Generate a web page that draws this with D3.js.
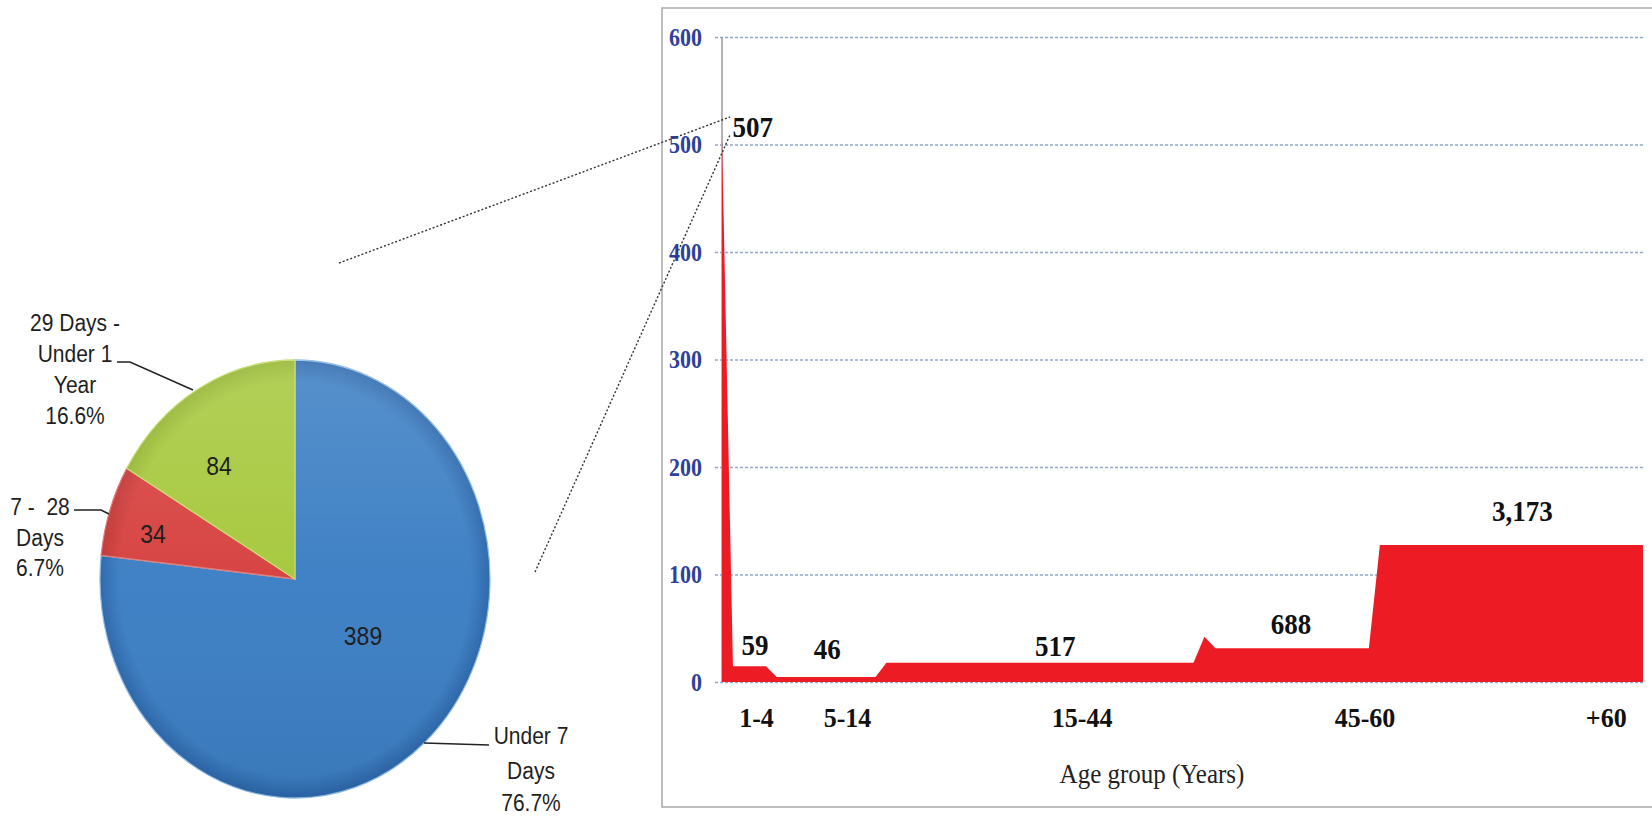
<!DOCTYPE html>
<html><head><meta charset="utf-8">
<script src="https://cdn.jsdelivr.net/npm/d3@7"></script>
<style>html,body{margin:0;padding:0;background:#fff;} svg{display:block;}</style>
</head><body>
<svg id="chart" width="1652" height="817"></svg>
<script>
// ---------------- data ----------------
const pieNames = ["Under 7 Days", "7 - 28 Days", "29 Days - Under 1 Year"];
const pieValues = [389, 34, 84];
const piePercents = ["76.7%", "6.7%", "16.6%"];

const ageCategories = ["1-4", "5-14", "15-44", "45-60", "+60"];
const groupTotals = ["507", "59", "46", "517", "688", "3,173"];
// area profile: age (years) and value per year of age
const areaAges   = [0,   1,     4,     5,   14,  15, 43, 44, 45,   59,   60,    84];
const areaValues = [507, 14.75, 14.75, 4.6, 4.6, 18, 18, 42, 31.5, 31.5, 127.5, 127.5];
const yTicks = [0, 100, 200, 300, 400, 500, 600];

// ---------------- layout ----------------
const svg = d3.select("#chart");
const serif = "'Liberation Serif','Times New Roman',serif";
const sans = "'Liberation Sans',Arial,sans-serif";

// right panel frame
svg.append("path").attr("d", "M1652,8H662V807H1652")
  .attr("fill", "none").attr("stroke", "#a8a8a8").attr("stroke-width", 1.5);

const x = d3.scaleLinear().domain([0, 84]).range([722, 1643]);
const y = d3.scaleLinear().domain([0, 600]).range([682, 37]);

// gridlines + y tick labels
const yAxis = d3.axisLeft(y).tickValues(yTicks)
  .tickSizeInner(-(1643 - 715)).tickSizeOuter(0).tickPadding(13);
const gy = svg.append("g").attr("transform", "translate(715,0)").call(yAxis);
gy.select(".domain").remove();
gy.selectAll(".tick line").attr("stroke", "#8ea8d0").attr("stroke-width", 1.5)
  .attr("stroke-dasharray", "3,2");
gy.selectAll(".tick text").attr("fill", "#2e3f9c").attr("font-family", serif)
  .attr("font-weight", "bold").attr("font-size", 22).attr("dy", "0.34em")
  .attr("transform", "scale(1,1.12)");

// y axis line
svg.append("line").attr("x1", 722).attr("x2", 722).attr("y1", y(0)).attr("y2", y(600))
  .attr("stroke", "#9a9a9a").attr("stroke-width", 1.5);

// area
const area = d3.area()
  .x((d, i) => x(areaAges[i]))
  .y0(y(0))
  .y1(d => y(d));
svg.append("path").datum(areaValues).attr("d", area).attr("fill", "#ed1c24");

// category labels (x axis)
const catAt = [3.1, 11.4, 32.8, 58.6, 80.6];
const xAxis = d3.axisBottom(x).tickValues(catAt)
  .tickFormat((d, i) => ageCategories[i]).tickSize(0);
const gx = svg.append("g").attr("transform", `translate(0,${y(0)})`).call(xAxis);
gx.select(".domain").remove();
gx.selectAll(".tick text").attr("y", 0).attr("dy", null)
  .attr("transform", "translate(0,45) scale(1,1.06)")
  .attr("fill", "#111").attr("font-family", serif).attr("font-weight", "bold").attr("font-size", 26);

// value labels
const labelAt = [[2.8, 507], [3.0, 25], [9.6, 21.4], [30.4, 24], [51.9, 44.6], [73.0, 150]];
svg.append("g").selectAll("text").data(groupTotals).join("text")
  .attr("transform", (d, i) => `translate(${x(labelAt[i][0])},${y(labelAt[i][1])}) scale(1,1.1)`)
  .attr("text-anchor", "middle").attr("font-family", serif).attr("font-weight", "bold")
  .attr("font-size", 27).attr("fill", "#111").text(d => d);

// axis title
svg.append("text").attr("transform", "translate(1152,783) scale(1,1.1)")
  .attr("text-anchor", "middle").attr("font-family", serif).attr("font-size", 25)
  .attr("fill", "#222").text("Age group (Years)");

// connector dotted lines
[[339, 263, 730, 117], [535, 572, 730, 135]].forEach(c => {
  svg.append("line").attr("x1", c[0]).attr("y1", c[1]).attr("x2", c[2]).attr("y2", c[3])
    .attr("stroke", "#333").attr("stroke-width", 1.4).attr("stroke-dasharray", "2,2");
});

// ---------------- pie ----------------
const pieCx = 295, pieCy = 579, R = 200, rx = 195, ry = 219;
const colors = [
  {main: "#3c7fc4", light: "#8fbce8", edge: "#2c67ab"},
  {main: "#d6413f", light: "#e27a76", edge: "#bf3634"},
  {main: "#a6c83d", light: "#c4dc6c", edge: "#93b32f"}
];
const defs = svg.append("defs");
colors.forEach((c, i) => {
  const g = defs.append("radialGradient").attr("id", "pg" + i)
    .attr("gradientUnits", "userSpaceOnUse").attr("cx", 0).attr("cy", 0).attr("r", R);
  g.append("stop").attr("offset", "0%").attr("stop-color", c.main);
  g.append("stop").attr("offset", "90%").attr("stop-color", c.main);
  g.append("stop").attr("offset", "100%").attr("stop-color", c.edge);
});
const shade = defs.append("linearGradient").attr("id", "shade")
  .attr("x1", 0).attr("y1", 0).attr("x2", 0).attr("y2", 1);
shade.append("stop").attr("offset", "0%").attr("stop-color", "#fff").attr("stop-opacity", 0.14);
shade.append("stop").attr("offset", "50%").attr("stop-color", "#fff").attr("stop-opacity", 0.02);
shade.append("stop").attr("offset", "100%").attr("stop-color", "#000").attr("stop-opacity", 0.06);

const pieData = d3.pie().sort(null).value(d => d)(pieValues);
const arc = d3.arc().innerRadius(0).outerRadius(R);
const pg = svg.append("g").attr("transform", `translate(${pieCx},${pieCy}) scale(${rx / R},${ry / R})`);
pg.selectAll("path.slice").data(pieData).join("path").attr("class", "slice")
  .attr("d", arc).attr("fill", (d, i) => `url(#pg${i})`)
  .attr("stroke", (d, i) => colors[i].light).attr("stroke-width", 1.2);
pg.append("ellipse").attr("cx", 0).attr("cy", 0).attr("rx", R).attr("ry", R)
  .attr("fill", "url(#shade)");

// slice value labels
const sliceLabelPos = [[363, 645], [153, 543], [219, 475]];
svg.append("g").selectAll("text").data(pieValues).join("text")
  .attr("transform", (d, i) => `translate(${sliceLabelPos[i][0]},${sliceLabelPos[i][1]}) scale(1,1.15)`)
  .attr("text-anchor", "middle").attr("font-family", sans).attr("font-size", 23)
  .attr("fill", "#1f1f1f").text(d => d);

// outer category labels
const outer = [
  {lines: ["Under 7", "Days", piePercents[0]], x: 531, y: [744, 779, 811]},
  {lines: ["7 -  28", "Days", piePercents[1]], x: 40, y: [515, 546, 576]},
  {lines: ["29 Days -", "Under 1", "Year", piePercents[2]], x: 75, y: [331, 362, 393, 424]}
];
outer.forEach(o => {
  o.lines.forEach((t, j) => {
    svg.append("text").attr("transform", `translate(${o.x},${o.y[j]}) scale(1,1.1)`)
      .attr("text-anchor", "middle").attr("font-family", sans).attr("font-size", 21)
      .attr("fill", "#1f1f1f").attr("xml:space", "preserve").text(t);
  });
});

// leader lines
const leaders = [
  [[424, 743], [489, 745]],
  [[74, 510], [101, 510], [109, 514]],
  [[117, 362], [130, 362], [193, 390]]
];
leaders.forEach(p => {
  svg.append("path").attr("d", d3.line()(p)).attr("fill", "none")
    .attr("stroke", "#222").attr("stroke-width", 1.5);
});
</script>
</body></html>
